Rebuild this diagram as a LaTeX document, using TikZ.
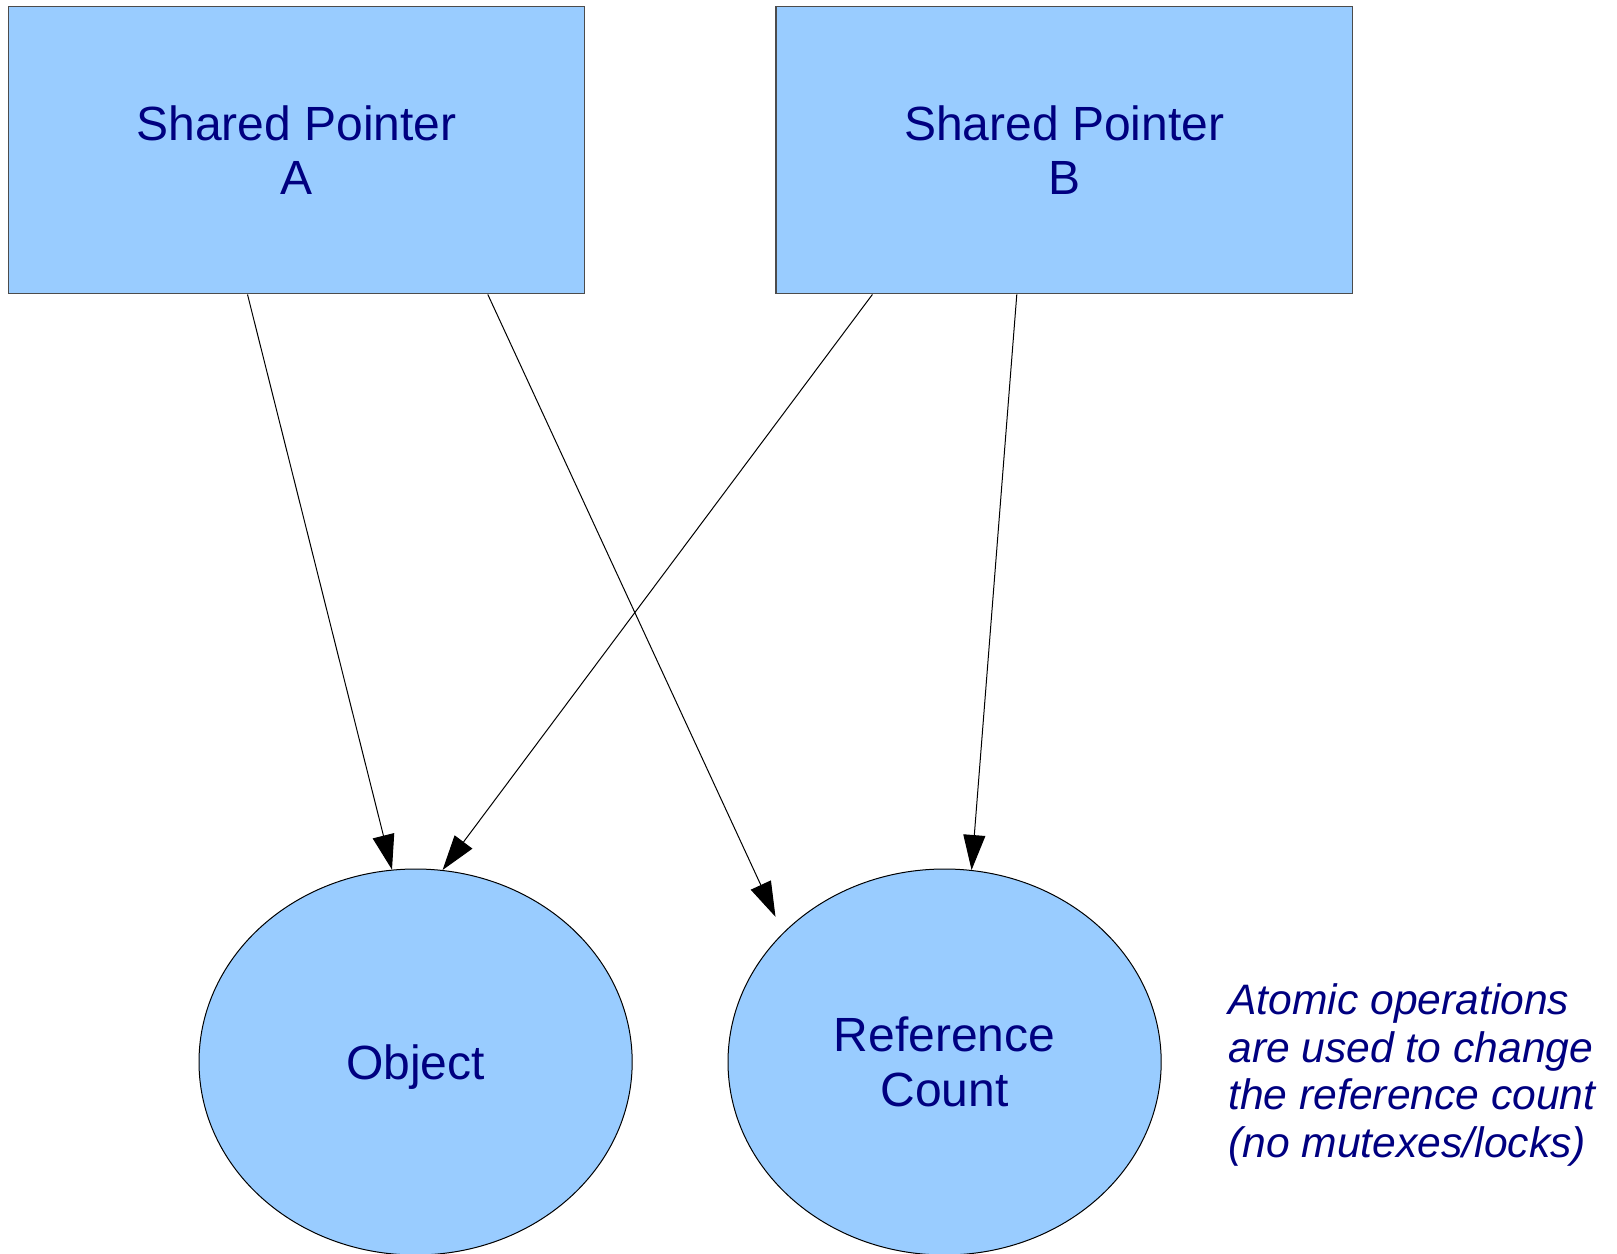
\documentclass[tikz,border=0pt]{standalone}
\usepackage{fontspec}
\setmainfont{Liberation Sans}
\usetikzlibrary{arrows.meta,calc,shapes.geometric}
\definecolor{boxfill}{HTML}{99CCFF}
\definecolor{navytext}{HTML}{000080}
\begin{document}
\begin{tikzpicture}[x=0.5pt,y=-0.5pt,
  ptr/.style={rectangle,draw=black!70,fill=boxfill,line width=0.6pt,
    minimum width=288.25pt,minimum height=143.85pt,inner sep=0pt,
    align=center,text=navytext,font=\fontsize{24}{27.25}\selectfont},
  blob/.style={ellipse,draw=black,fill=boxfill,line width=0.5pt,
    minimum width=216.6pt,minimum height=193pt,inner sep=0pt,
    align=center,text=navytext,font=\fontsize{24}{27.25}\selectfont},
  note/.style={inner sep=0pt,align=left,text=navytext,
    font=\fontsize{21.3}{23.95}\selectfont\itshape},
  link/.style={-{Triangle[length=17.5pt,width=11pt]},line width=0.5pt,draw=black}]
\useasboundingbox (0,0) rectangle (1617,1253);
\node[ptr] (A) at (296.5,150) {Shared Pointer\\A};
\node[ptr] (B) at (1064.25,150) {Shared Pointer\\B};
\node[blob,text depth=0pt] (obj) at (415.6,1062) {Object};
\node[blob] (rc) at (944.6,1062) {Reference\\Count};
\node[note,anchor=west] (txt) at (1228,1075) {Atomic operations\\are used to change\\the reference count\\(no mutexes/locks)};
\coordinate (rcin) at (775.5,916.8);
\draw[link] ($(A.south)+(-49,0)$) -- (obj.97);
\draw[link] ($(A.south)+(191.3,0)$) -- (rcin);
\draw[link] ($(B.south)+(-191.85,0)$) -- (obj.82.4);
\draw[link] ($(B.south)+(-47.45,0)$) -- (rc.82.7);
\end{tikzpicture}
\end{document}
